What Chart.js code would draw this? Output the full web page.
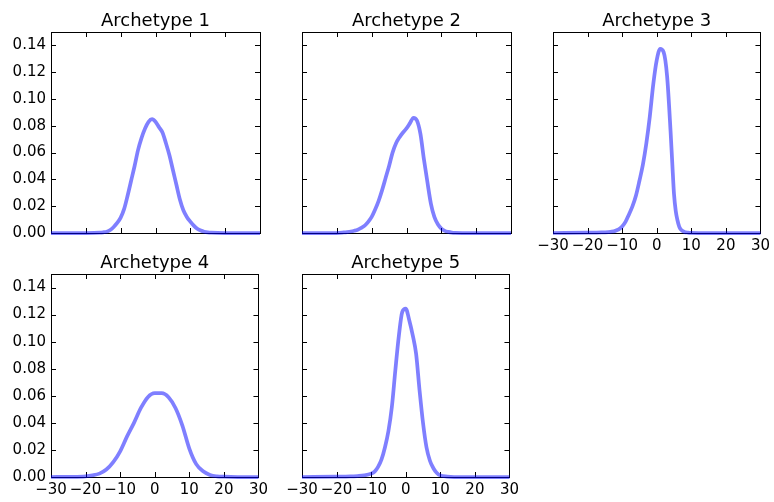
<!DOCTYPE html>
<html>
<head>
<meta charset="utf-8">
<title>Archetypes</title>
<script src="https://cdn.jsdelivr.net/npm/chart.js@4.4.1/dist/chart.umd.min.js"></script>
<style>
  body { margin: 0; background: #fff; overflow: hidden; }
  #wrap { position: relative; width: 774px; height: 502px; }
  #wrap canvas { position: absolute; }
</style>
</head>
<body>
<div id="wrap"></div>
<script>
// tick labels shared by every panel
const xTicks = [-30, -20, -10, 0, 10, 20, 30]
const yTicks = [0, 0.02, 0.04, 0.06, 0.08, 0.10, 0.12, 0.14]

const titles = ['Archetype 1', 'Archetype 2', 'Archetype 3', 'Archetype 4', 'Archetype 5']

// density curves, x positions and heights
const x1 = [-30, -20, -16, -15, -14, -13, -12, -11, -10, -9, -8, -7, -6, -5, -4, -3, -2, -1, 0, 1, 2, 3, 4, 5, 6, 7, 8, 9, 10, 11, 12, 13, 14, 15, 16, 20, 30]
const y1 = [0, 0, 0.0002, 0.0005, 0.001, 0.0022, 0.0045, 0.0075, 0.0115, 0.018, 0.028, 0.039, 0.050, 0.062, 0.071, 0.078, 0.083, 0.085, 0.083, 0.079, 0.075, 0.067, 0.058, 0.047, 0.036, 0.025, 0.017, 0.012, 0.0085, 0.0055, 0.0032, 0.0018, 0.0009, 0.0004, 0.0002, 0, 0]

const x2 = [-30, -20, -18, -17, -16, -15, -14, -13, -12, -11, -10, -9, -8, -7, -6, -5, -4, -3, -2, -1, 0, 1, 2, 3, 4, 5, 6, 7, 8, 9, 10, 11, 12, 13, 14, 16, 30]
const y2 = [0, 0, 0.0004, 0.0007, 0.0011, 0.0017, 0.0025, 0.0038, 0.0055, 0.0083, 0.012, 0.0175, 0.024, 0.032, 0.041, 0.050, 0.060, 0.067, 0.0715, 0.075, 0.078, 0.082, 0.086, 0.084, 0.074, 0.055, 0.038, 0.022, 0.012, 0.0065, 0.0033, 0.0016, 0.0008, 0.0003, 0.0001, 0, 0]

const x3 = [-30, -20, -16, -14, -13, -12, -11, -10, -9, -8, -7, -6, -5, -4, -3, -2, -1, 0, 1, 2, 3, 4, 4.5, 5, 5.5, 6, 6.5, 7, 8, 9, 10, 12, 30]
const y3 = [0, 0.0002, 0.0004, 0.0007, 0.001, 0.0016, 0.0027, 0.0048, 0.0085, 0.014, 0.020, 0.028, 0.039, 0.051, 0.067, 0.087, 0.111, 0.129, 0.1375, 0.135, 0.117, 0.076, 0.052, 0.029, 0.0165, 0.0095, 0.0048, 0.0025, 0.0008, 0.0003, 0.0001, 0, 0]

const x4 = [-30, -24, -20, -18, -16, -14, -12, -10, -8, -6, -4, -2, 0, 2, 4, 6, 8, 10, 12, 14, 16, 18, 20, 24, 30]
const y4 = [0, 0.0001, 0.0005, 0.0012, 0.0025, 0.0055, 0.011, 0.019, 0.030, 0.040, 0.051, 0.059, 0.062, 0.062, 0.059, 0.051, 0.038, 0.021, 0.0095, 0.0042, 0.0015, 0.0005, 0.0002, 0, 0]

const x5 = [-30, -20, -16, -14, -12, -10, -9, -8, -7, -6, -5, -4, -3, -2, -1, 0, 1, 2, 3, 4, 5, 6, 7, 8, 9, 10, 12, 14, 30]
const y5 = [0, 0.0002, 0.0004, 0.0007, 0.0012, 0.0025, 0.004, 0.0075, 0.013, 0.022, 0.034, 0.052, 0.079, 0.104, 0.122, 0.1245, 0.116, 0.105, 0.091, 0.064, 0.040, 0.022, 0.012, 0.0065, 0.003, 0.0012, 0.0003, 0, 0]

const curvesX = [x1, x2, x3, x4, x5]
const curvesY = [y1, y2, y3, y4, y5]

// plot boxes: left, top, width, height, show y labels, show x labels
const panels = [
  [51, 32, 209, 201, true, false],
  [302, 32, 209, 201, false, false],
  [553, 32, 209, 201, false, true],
  [51, 274, 209, 203, true, true],
  [302, 274, 209, 203, false, true]
]

const YAXIS_W = 51
const TITLE_H = 32
const XAXIS_H = 24
const RIGHT_PAD = 12
const TICK = 5

Chart.defaults.font.family = 'DejaVu Sans'
Chart.defaults.color = '#000'

// box around the plot with inward ticks on all four sides
const frameTicks = {
  id: 'frameTicks',
  beforeDatasetsDraw(chart){
    var ctx = chart.ctx
    var a = chart.chartArea
    var sx = chart.scales.x
    var sy = chart.scales.y
    ctx.save()
    ctx.strokeStyle = '#000'
    ctx.lineWidth = 1
    ctx.beginPath()
    xTicks.forEach(function(v){
      var px = Math.round(sx.getPixelForValue(v)) + 0.5
      ctx.moveTo(px, a.top); ctx.lineTo(px, a.top + TICK)
      ctx.moveTo(px, a.bottom); ctx.lineTo(px, a.bottom - TICK)
    })
    yTicks.forEach(function(v){
      var py = Math.round(sy.getPixelForValue(v)) + 0.5
      ctx.moveTo(a.left, py); ctx.lineTo(a.left + TICK, py)
      ctx.moveTo(a.right, py); ctx.lineTo(a.right - TICK, py)
    })
    ctx.stroke()
    ctx.strokeRect(Math.round(a.left) + 0.5, Math.round(a.top) + 0.5,
                   Math.round(a.right - a.left), Math.round(a.bottom - a.top))
    ctx.restore()
  }
}

function minus(v){
  return String(v).replace('-', '\u2212')
}

var wrap = document.getElementById('wrap')

panels.forEach(function(p, i){
  var cv = document.createElement('canvas')
  var w = YAXIS_W + p[2] + RIGHT_PAD
  var h = TITLE_H + p[3] + XAXIS_H
  cv.width = w
  cv.height = h
  cv.style.left = (p[0] - YAXIS_W) + 'px'
  cv.style.top = (p[1] - TITLE_H) + 'px'
  wrap.appendChild(cv)

  var pts = curvesX[i].map(function(x, j){ return {x: x, y: curvesY[i][j]} })

  new Chart(cv.getContext('2d'), {
    type: 'line',
    data: {
      datasets: [{
        data: pts,
        borderColor: 'rgba(0, 0, 255, 0.5)',
        borderWidth: 3.75,
        pointRadius: 0,
        cubicInterpolationMode: 'monotone',
        fill: false,
        clip: false
      }]
    },
    options: {
      responsive: false,
      animation: false,
      devicePixelRatio: 1,
      layout: { padding: { left: 0, right: RIGHT_PAD, top: 0, bottom: 0 } },
      plugins: {
        legend: { display: false },
        tooltip: { enabled: false },
        title: {
          display: true,
          fullSize: false,
          text: titles[i],
          font: { size: 18, weight: 'normal', lineHeight: 1 },
          padding: { top: 12, bottom: 2 },
          color: '#000'
        }
      },
      scales: {
        x: {
          type: 'linear',
          min: -30,
          max: 30,
          grid: { display: false, drawTicks: false },
          border: { display: false },
          afterBuildTicks: function(s){ s.ticks = xTicks.map(function(v){ return {value: v} }) },
          afterFit: function(s){ s.height = XAXIS_H },
          ticks: {
            display: p[5],
            autoSkip: false,
            padding: 4,
            maxRotation: 0,
            font: { size: 15 },
            callback: function(v){ return minus(v) }
          }
        },
        y: {
          min: 0,
          max: 0.15,
          grid: { display: false, drawTicks: false },
          border: { display: false },
          afterBuildTicks: function(s){ s.ticks = yTicks.map(function(v){ return {value: v} }) },
          afterFit: function(s){ s.width = YAXIS_W },
          ticks: {
            display: p[4],
            autoSkip: false,
            padding: 5,
            font: { size: 15 },
            callback: function(v){ return v.toFixed(2) }
          }
        }
      }
    },
    plugins: [frameTicks]
  })
})
</script>
</body>
</html>
